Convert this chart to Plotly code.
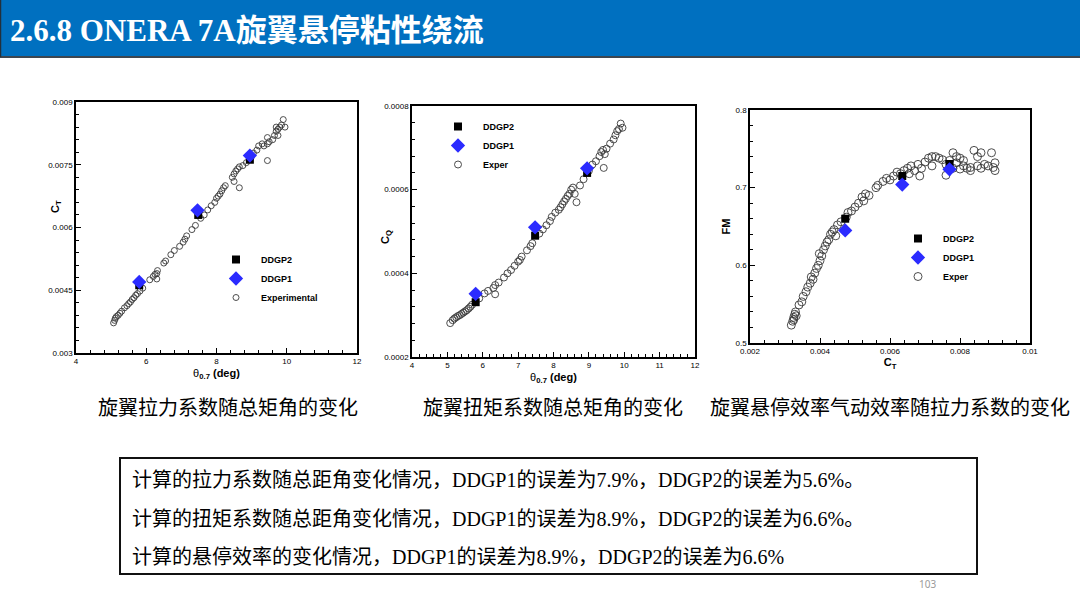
import plotly.graph_objects as go

W, H = 1080, 607

# ---------------- data ----------------
# Chart 1: thrust coefficient vs collective pitch
ct_ddgp2_theta = [5.8, 7.48, 8.95]
ct_ddgp2 = [0.00462, 0.00630, 0.00762]
ct_ddgp1_theta = [5.8, 7.46, 8.95]
ct_ddgp1 = [0.00470, 0.00641, 0.00772]
ct_exp_theta = [5.07, 5.10, 5.12, 5.15, 5.20, 5.25, 5.30, 5.38, 5.45, 5.50, 5.55, 5.60, 5.65, 5.70,
                5.75, 5.82, 5.90, 6.10, 6.20, 6.25, 6.30, 6.32, 6.30, 6.50, 6.55, 6.70, 6.80, 6.95,
                7.05, 7.10, 7.15, 7.30, 7.40, 7.55, 7.65, 7.75, 7.85, 7.95, 8.00, 8.05, 8.10, 8.15,
                8.20, 8.25, 8.45, 8.50, 8.55, 8.60, 8.65, 8.50, 8.65, 8.75, 8.85, 9.00, 9.05, 9.15,
                9.20, 9.30, 9.35, 9.45, 9.45, 9.50, 9.45, 9.60, 9.65, 9.70, 9.75, 9.80, 9.85, 9.75,
                9.90, 9.95, 9.70]
ct_exp = [0.00372, 0.00378, 0.00383, 0.00387, 0.00390, 0.00395, 0.00400, 0.00408, 0.00413, 0.00418,
          0.00422, 0.00428, 0.00432, 0.00438, 0.00442, 0.00448, 0.00455, 0.00475, 0.00483, 0.00488,
          0.00490, 0.00497, 0.00477, 0.00515, 0.00520, 0.00535, 0.00545, 0.00555, 0.00565, 0.00572,
          0.00580, 0.00595, 0.00605, 0.00622, 0.00630, 0.00642, 0.00652, 0.00660, 0.00670, 0.00675,
          0.00680, 0.00688, 0.00695, 0.00700, 0.00720, 0.00728, 0.00735, 0.00740, 0.00745, 0.00710,
          0.00695, 0.00748, 0.00755, 0.00770, 0.00778, 0.00785, 0.00795, 0.00800, 0.00795, 0.00800,
          0.00815, 0.00805, 0.00760, 0.00810, 0.00820, 0.00830, 0.00835, 0.00840, 0.00845, 0.00820,
          0.00858, 0.00840, 0.00840]

# Chart 2: torque coefficient vs collective pitch
cq_ddgp2_theta = [5.8, 7.48, 8.95]
cq_ddgp2 = [0.000331, 0.000490, 0.000640]
cq_ddgp1_theta = [5.8, 7.48, 8.95]
cq_ddgp1 = [0.000351, 0.000510, 0.000651]
cq_exp_theta = [5.08, 5.15, 5.20, 5.25, 5.30, 5.35, 5.40, 5.45, 5.50, 5.55, 5.60, 5.65, 5.70, 5.90,
                6.05, 6.15, 6.30, 6.35, 6.35, 6.45, 6.60, 6.70, 6.80, 6.90, 7.00, 7.05, 7.10, 7.25,
                7.35, 7.40, 7.60, 7.70, 7.80, 7.90, 7.95, 8.05, 8.15, 8.20, 8.25, 8.30, 8.35, 8.40,
                8.45, 8.50, 8.55, 8.60, 8.65, 8.75, 8.85, 9.00, 9.10, 9.20, 9.30, 9.35, 9.40, 9.45,
                9.42, 9.50, 9.60, 9.70, 9.75, 9.80, 9.90, 9.95, 9.85]
cq_exp = [0.000281, 0.000288, 0.000292, 0.000295, 0.000298, 0.000300, 0.000303, 0.000306, 0.000309,
          0.000312, 0.000316, 0.000320, 0.000325, 0.000340, 0.000352, 0.000358, 0.000365, 0.000372,
          0.000350, 0.000378, 0.000390, 0.000400, 0.000408, 0.000418, 0.000428, 0.000432, 0.000440,
          0.000455, 0.000465, 0.000472, 0.000495, 0.000505, 0.000515, 0.000525, 0.000535, 0.000545,
          0.000552, 0.000558, 0.000565, 0.000572, 0.000578, 0.000585, 0.000590, 0.000600, 0.000605,
          0.000590, 0.000570, 0.000610, 0.000625, 0.000645, 0.000660, 0.000668, 0.000680, 0.000690,
          0.000695, 0.000685, 0.000652, 0.000698, 0.000710, 0.000720, 0.000730, 0.000740, 0.000758,
          0.000748, 0.000745]

# Chart 3: figure of merit vs thrust coefficient
fm_ddgp2_ct = [0.00472, 0.00635, 0.00770]
fm_ddgp2 = [0.660, 0.715, 0.7305]
fm_ddgp1_ct = [0.00472, 0.00635, 0.00770]
fm_ddgp1 = [0.645, 0.704, 0.7236]
fm_exp_ct = [0.00318, 0.00322, 0.00325, 0.00328, 0.00330, 0.00325, 0.00332, 0.00340, 0.00348, 0.00352,
             0.00360, 0.00365, 0.00372, 0.00375, 0.00380, 0.00385, 0.00390, 0.00395, 0.00400, 0.00398,
             0.00405, 0.00410, 0.00415, 0.00420, 0.00425, 0.00430, 0.00435, 0.00440, 0.00450, 0.00445,
             0.00460, 0.00475, 0.00480, 0.00490, 0.00500, 0.00510, 0.00520, 0.00530, 0.00525, 0.00540,
             0.00560, 0.00565, 0.00580, 0.00590, 0.00600, 0.00610, 0.00620, 0.00630, 0.00640, 0.00650,
             0.00660, 0.00655, 0.00670, 0.00680, 0.00685, 0.00690, 0.00700, 0.00710, 0.00720, 0.00730,
             0.00740, 0.00720, 0.00750, 0.00760, 0.00770, 0.00780, 0.00790, 0.00800, 0.00810, 0.00820,
             0.00830, 0.00840, 0.00850, 0.00860, 0.00870, 0.00880, 0.00890, 0.00900, 0.00900, 0.00895,
             0.00850, 0.00860, 0.00830, 0.00800, 0.00790, 0.00760, 0.00780, 0.00810]
fm_exp = [0.523, 0.528, 0.533, 0.537, 0.540, 0.530, 0.535, 0.549, 0.553, 0.560, 0.566, 0.572, 0.577,
          0.585, 0.582, 0.590, 0.596, 0.600, 0.606, 0.615, 0.612, 0.620, 0.625, 0.630, 0.633, 0.640,
          0.643, 0.646, 0.652, 0.638, 0.656, 0.662, 0.668, 0.670, 0.675, 0.680, 0.688, 0.692, 0.683,
          0.690, 0.700, 0.703, 0.708, 0.712, 0.710, 0.715, 0.720, 0.718, 0.722, 0.725, 0.728, 0.718,
          0.722, 0.730, 0.715, 0.725, 0.733, 0.738, 0.740, 0.740, 0.738, 0.728, 0.736, 0.716, 0.735,
          0.745, 0.740, 0.738, 0.728, 0.725, 0.722, 0.748, 0.740, 0.745, 0.730, 0.728, 0.745, 0.732,
          0.722, 0.726, 0.728, 0.725, 0.726, 0.724, 0.732, 0.730, 0.725, 0.735]

# tick labels
x12_ticks = [4, 6, 8, 10, 12]
x12_ticktext = ["4", "6", "8", "10", "12"]
x2_ticks = [4, 5, 6, 7, 8, 9, 10, 11, 12]
x2_ticktext = ["4", "5", "6", "7", "8", "9", "10", "11", "12"]
y1_ticks = [0.003, 0.0045, 0.006, 0.0075, 0.009]
y1_ticktext = ["0.003", "0.0045", "0.006", "0.0075", "0.009"]
y2_ticks = [0.0002, 0.0004, 0.0006, 0.0008]
y2_ticktext = ["0.0002", "0.0004", "0.0006", "0.0008"]
x3_ticks = [0.002, 0.004, 0.006, 0.008, 0.01]
x3_ticktext = ["0.002", "0.004", "0.006", "0.008", "0.01"]
y3_ticks = [0.5, 0.6, 0.7, 0.8]
y3_ticktext = ["0.5", "0.6", "0.7", "0.8"]

title_text = "2.6.8 ONERA 7A旋翼悬停粘性绕流"
captions = ["旋翼拉力系数随总矩角的变化", "旋翼扭矩系数随总矩角的变化", "旋翼悬停效率气动效率随拉力系数的变化"]
box_lines = [
    "计算的拉力系数随总距角变化情况，DDGP1的误差为7.9%，DDGP2的误差为5.6%。",
    "计算的扭矩系数随总距角变化情况，DDGP1的误差为8.9%，DDGP2的误差为6.6%。",
    "计算的悬停效率的变化情况，DDGP1的误差为8.9%，DDGP2的误差为6.6%",
]
page_number = "103"

# ---------------- style ----------------
BLUE = "#2B2BFF"
SANS = "Liberation Sans, Arial, sans-serif"
SERIF_CJK = "Liberation Serif, Times New Roman, Noto Sans CJK SC, serif"


def px_x(x):
    return x / W


def px_y(y):
    return 1 - y / H


fig = go.Figure()


def add_chart(idx, xe, ye, x2, y2, x1, y1, circ_size, legend_name, exp_name):
    xa = "x" if idx == 1 else f"x{idx}"
    ya = "y" if idx == 1 else f"y{idx}"
    fig.add_trace(go.Scatter(x=xe, y=ye, mode="markers", xaxis=xa, yaxis=ya,
                             name="<b>" + exp_name + "</b>",
                             legend=legend_name, legendrank=3,
                             marker=dict(symbol="circle-open", size=circ_size,
                                         line=dict(color="#3a3a3a", width=0.9), color="#3a3a3a")))
    fig.add_trace(go.Scatter(x=x2, y=y2, mode="markers", xaxis=xa, yaxis=ya, name="<b>DDGP2</b>",
                             legend=legend_name, legendrank=1,
                             marker=dict(symbol="square", size=8, color="black")))
    fig.add_trace(go.Scatter(x=x1, y=y1, mode="markers", xaxis=xa, yaxis=ya, name="<b>DDGP1</b>",
                             legend=legend_name, legendrank=2,
                             marker=dict(symbol="diamond", size=11, color=BLUE)))


add_chart(1, ct_exp_theta, ct_exp, ct_ddgp2_theta, ct_ddgp2, ct_ddgp1_theta, ct_ddgp1, 6, "legend", "Experimental")
add_chart(2, cq_exp_theta, cq_exp, cq_ddgp2_theta, cq_ddgp2, cq_ddgp1_theta, cq_ddgp1, 7, "legend2", "Exper")
add_chart(3, fm_exp_ct, fm_exp, fm_ddgp2_ct, fm_ddgp2, fm_ddgp1_ct, fm_ddgp1, 8, "legend3", "Exper")


def axis(domain, rng, tv, tt, minor_d, title, anchor, standoff):
    return dict(domain=domain, range=rng, anchor=anchor, tickmode="array", tickvals=tv, ticktext=tt,
                automargin=False,
                ticks="inside", ticklen=5, tickwidth=1, tickcolor="black",
                minor=dict(tickmode="linear", tick0=rng[0], dtick=minor_d, ticks="inside",
                           ticklen=3, tickcolor="black", tickwidth=1),
                showline=True, linecolor="black", linewidth=1.6, mirror=True,
                showgrid=False, zeroline=False,
                tickfont=dict(family=SANS, size=8, color="black"),
                title=dict(text=title, font=dict(family=SANS, size=11, color="black"), standoff=standoff))


theta_title = "θ<sub><b>0.7</b></sub> <b>(deg)</b>"

fig.update_layout(
    xaxis=axis([px_x(76), px_x(357)], [4, 12], x12_ticks, x12_ticktext, 0.4, theta_title, "y", 4),
    yaxis=axis([px_y(353), px_y(102)], [0.003, 0.009], y1_ticks, y1_ticktext, 0.0003, "", "x", 2),
    xaxis2=axis([px_x(412), px_x(695)], [4, 12], x2_ticks, x2_ticktext, 0.2, theta_title, "y2", 4),
    yaxis2=axis([px_y(357), px_y(106)], [0.0002, 0.0008], y2_ticks, y2_ticktext, 0.00004, "", "x2", 2),
    xaxis3=axis([px_x(750), px_x(1030)], [0.002, 0.01], x3_ticks, x3_ticktext, 0.0004, "<b>C<sub>T</sub></b>", "y3", 1),
    yaxis3=axis([px_y(343), px_y(110)], [0.5, 0.8], y3_ticks, y3_ticktext, 0.02, "<b>FM</b>", "x3", 3),
)

leg_common = dict(font=dict(family=SANS, size=9, color="black"), bgcolor="rgba(0,0,0,0)",
                  borderwidth=0, xanchor="left", yanchor="top", traceorder="normal",
                  itemsizing="trace", tracegroupgap=0, itemwidth=40)
fig.update_layout(
    legend=dict(x=px_x(211), y=px_y(245), **leg_common),
    legend2=dict(x=px_x(433), y=px_y(112), **leg_common),
    legend3=dict(x=px_x(893), y=px_y(224), **leg_common),
)

shapes = [
    dict(type="rect", xref="paper", yref="paper", x0=0, x1=1, y0=px_y(56), y1=1,
         fillcolor="#0070C0", line=dict(width=0), layer="below"),
    dict(type="line", xref="paper", yref="paper", x0=0, x1=1, y0=px_y(57), y1=px_y(57),
         line=dict(color="#3d4650", width=2)),
    dict(type="line", xref="paper", yref="paper", x0=px_x(0.5), x1=px_x(0.5), y0=px_y(57), y1=1,
         line=dict(color="#22303c", width=1.5)),
    dict(type="rect", xref="paper", yref="paper", x0=px_x(120), x1=px_x(977), y0=px_y(574), y1=px_y(458),
         line=dict(color="#111111", width=2), fillcolor="rgba(0,0,0,0)"),
]

annotations = [
    dict(text="<b>" + title_text + "</b>", x=px_x(8), y=px_y(30), xref="paper", yref="paper",
         xanchor="left", yanchor="middle", align="left", showarrow=False,
         font=dict(family=SERIF_CJK, size=31, color="white")),
    # y-axis titles of the first two charts (sit close to the tick labels, as in the reference)
    dict(text="<b>C<sub>T</sub></b>", x=px_x(56), y=px_y(207), xref="paper", yref="paper",
         xanchor="center", yanchor="middle", textangle=-90, showarrow=False,
         font=dict(family=SANS, size=11, color="black")),
    dict(text="<b>C<sub>Q</sub></b>", x=px_x(386), y=px_y(237), xref="paper", yref="paper",
         xanchor="center", yanchor="middle", textangle=-90, showarrow=False,
         font=dict(family=SANS, size=11, color="black")),
]
cap_x = [228, 553, 890]
for cx, ct in zip(cap_x, captions):
    annotations.append(dict(text=ct, x=px_x(cx), y=px_y(408), xref="paper", yref="paper",
                            xanchor="center", yanchor="middle", align="center", showarrow=False,
                            font=dict(family=SERIF_CJK, size=20, color="black")))
for ly, lt in zip([480, 519, 557], box_lines):
    annotations.append(dict(text=lt, x=px_x(130), y=px_y(ly), xref="paper", yref="paper",
                            xanchor="left", yanchor="middle", align="left", showarrow=False,
                            font=dict(family=SERIF_CJK, size=20, color="black")))
annotations.append(dict(text=page_number, x=px_x(927), y=px_y(584), xref="paper", yref="paper",
                        xanchor="center", yanchor="middle", showarrow=False,
                        font=dict(family="Noto Sans, sans-serif", size=10, color="#9a9a9a")))

fig.update_layout(
    width=W, height=H, margin=dict(l=0, r=0, t=0, b=0),
    paper_bgcolor="white", plot_bgcolor="white",
    shapes=shapes, annotations=annotations, showlegend=True,
)

fig.write_html("out.html", config={"displayModeBar": False})
